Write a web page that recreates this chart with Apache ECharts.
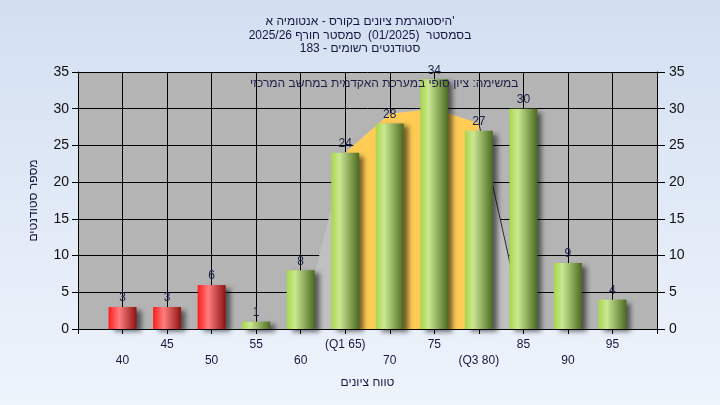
<!DOCTYPE html>
<html>
<head>
<meta charset="utf-8">
<script src="https://cdn.jsdelivr.net/npm/echarts@6/dist/echarts.min.js"></script>
<style>
  html, body { margin: 0; padding: 0; }
  #chart { width: 720px; height: 405px; }
</style>
</head>
<body>
<div id="chart"></div>
<script>
// grades histogram data
var grades = [40, 45, 50, 55, 60, 65, 70, 75, 80, 85, 90, 95]
var counts = [3, 3, 6, 1, 8, 24, 28, 34, 27, 30, 9, 4]
var gradeLabels = ['40', '45', '50', '55', '60', '(Q1 65)', '70', '75', '(Q3 80)', '85', '90', '95']
var failCount = 3

// background curve behind the bars
var curveX = [60, 65, 70, 75, 80, 85]
var curveY = [0, 24, 29.3, 30, 28, 0.8]
var q1Index = 1
var q3Index = 4

var titleText = "היסטוגרמת ציונים בקורס - אנטומיה א'\nבסמסטר  (01/2025)  סמסטר חורף 2025/26\nסטודנטים רשומים - 183"
var noteText = 'במשימה: ציון סופי במערכת האקדמית במחשב המרכזי'

function barGradient(red) {
  var stops = red
    ? [{ offset: 0, color: '#ff1c1c' }, { offset: 0.38, color: '#ff7d7d' }, { offset: 1, color: '#8c1414' }]
    : [{ offset: 0, color: '#a8d64a' }, { offset: 0.3, color: '#cae892' }, { offset: 1, color: '#4c6a20' }]
  return new echarts.graphic.LinearGradient(0, 0, 1, 0, stops)
}

function pairs(xs, ys, from, to) {
  var out = []
  for (var i = from; i <= to; i++) out.push([xs[i], ys[i]])
  return out
}

var barData = grades.map(function (g, i) {
  return {
    value: [g, counts[i]],
    itemStyle: { color: barGradient(i < failCount) }
  }
})

var chart = echarts.init(document.getElementById('chart'))
chart.setOption({
  backgroundColor: new echarts.graphic.LinearGradient(0, 0, 0, 1, [
    { offset: 0, color: '#d3dff1' },
    { offset: 1, color: '#eef4fc' }
  ]),
  animation: false,
  title: {
    text: titleText,
    left: 'center',
    top: 10,
    textStyle: {
      fontFamily: 'Liberation Sans',
      fontSize: 12,
      fontWeight: 'normal',
      color: '#141840',
      lineHeight: 13.5
    }
  },
  graphic: [{
    type: 'text',
    left: 250,
    top: 78,
    z: 100,
    style: {
      text: noteText,
      font: '12px "Liberation Sans"',
      fill: '#1c2048'
    }
  }],
  grid: {
    show: true,
    left: 78,
    right: 63,
    top: 72,
    bottom: 76,
    backgroundColor: '#b4b4b4',
    borderWidth: 0
  },
  xAxis: {
    type: 'value',
    min: 35,
    max: 100,
    interval: 5,
    name: 'טווח ציונים',
    nameLocation: 'middle',
    nameGap: 48,
    nameTextStyle: { fontFamily: 'Liberation Sans', fontSize: 12, color: '#141840' },
    axisLine: { show: true, lineStyle: { color: '#000', width: 1 } },
    axisTick: { show: true, length: 5, lineStyle: { color: '#000' } },
    splitLine: { show: true, lineStyle: { color: '#000', width: 1 } },
    axisLabel: {
      margin: 8,
      fontFamily: 'Liberation Sans',
      fontSize: 12,
      lineHeight: 16,
      color: '#141840',
      showMinLabel: true,
      showMaxLabel: true,
      formatter: function (v) {
        var i = grades.indexOf(v)
        if (i < 0) return ''
        return i % 2 === 1 ? gradeLabels[i] : '\n' + gradeLabels[i]
      }
    }
  },
  yAxis: [{
    type: 'value',
    min: 0,
    max: 35,
    interval: 5,
    position: 'left',
    name: 'מספר סטודנטים',
    nameLocation: 'middle',
    nameGap: 38,
    nameRotate: 90,
    nameTextStyle: { fontFamily: 'Liberation Sans', fontSize: 12, color: '#141840' },
    axisLine: { show: true, lineStyle: { color: '#000' } },
    axisTick: { show: true, length: 6, lineStyle: { color: '#000' } },
    splitLine: { show: true, lineStyle: { color: '#000', width: 1 } },
    axisLabel: { margin: 9, fontFamily: 'Liberation Sans', fontSize: 14, color: '#101010' }
  }, {
    type: 'value',
    min: 0,
    max: 35,
    interval: 5,
    position: 'right',
    axisLine: { show: true, lineStyle: { color: '#000' } },
    axisTick: { show: true, length: 8, lineStyle: { color: '#000' } },
    splitLine: { show: false },
    axisLabel: { margin: 12, fontFamily: 'Liberation Sans', fontSize: 14, color: '#101010' }
  }],
  series: [{
    type: 'line',
    data: pairs(curveX, curveY, 0, curveX.length - 1),
    symbol: 'none',
    lineStyle: { width: 0 },
    areaStyle: { color: '#c0c0c0', opacity: 1 },
    z: 1
  }, {
    type: 'line',
    data: pairs(curveX, curveY, q1Index, q3Index),
    symbol: 'none',
    lineStyle: { width: 0 },
    areaStyle: { color: '#ffcc55', opacity: 1 },
    z: 2
  }, {
    type: 'line',
    data: pairs(curveX, curveY, q3Index, curveX.length - 1),
    symbol: 'none',
    lineStyle: { color: '#2a2a2a', width: 1 },
    z: 2
  }, {
    type: 'bar',
    data: barData,
    barWidth: 28,
    z: 5,
    itemStyle: {
      shadowColor: 'rgba(0,0,0,0.55)',
      shadowBlur: 5,
      shadowOffsetX: 5,
      shadowOffsetY: 3
    },
    label: {
      show: true,
      position: 'top',
      distance: 3,
      fontFamily: 'Liberation Sans',
      fontSize: 12,
      color: '#1a2048',
      formatter: function (p) { return p.value[1] }
    }
  }]
})
</script>
</body>
</html>
